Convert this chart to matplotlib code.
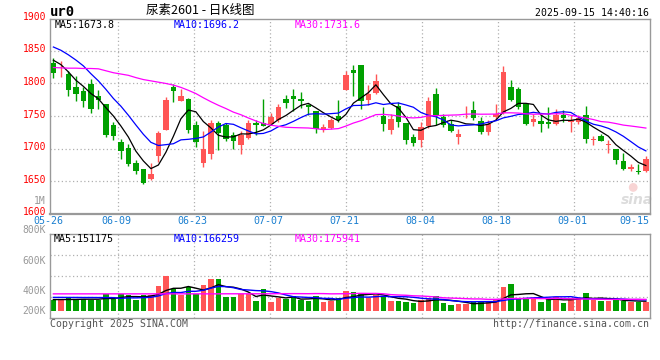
import matplotlib
matplotlib.use('Agg')
import matplotlib.pyplot as plt
import numpy as np
from matplotlib.transforms import blended_transform_factory, ScaledTranslation

# ---------------- data ----------------
opens = [1830.7, 1814.0, 1814.5, 1794.8, 1788.6, 1799.9, 1781.0, 1768.2, 1736.0, 1710.4,
         1700.6, 1677.1, 1669.4, 1653.1, 1688.9, 1728.3, 1794.8, 1773.3, 1776.0, 1736.0,
         1678.1, 1691.9, 1739.5, 1736.0, 1720.6, 1705.2, 1715.5, 1739.5, 1740.0, 1737.5,
         1743.6, 1775.8, 1781.0, 1776.0, 1767.0, 1757.5, 1730.0, 1732.0, 1749.7, 1789.6,
         1820.0, 1828.0, 1774.3, 1785.6, 1750.3, 1728.3, 1765.1, 1739.5, 1718.0, 1712.9,
         1734.9, 1784.5, 1748.7, 1738.5, 1718.0, 1754.5, 1759.0, 1742.1, 1725.7, 1748.7,
         1755.4, 1794.8, 1791.2, 1768.2, 1741.0, 1742.1, 1741.0, 1737.0, 1752.3, 1741.0,
         1741.0, 1752.3, 1713.0, 1719.1, 1705.2, 1699.1, 1680.7, 1668.4, 1665.9, 1665.9]
highs = [1838.4, 1834.0, 1819.0, 1811.6, 1794.8, 1807.5, 1789.6, 1768.2, 1741.0, 1714.0,
         1707.8, 1682.2, 1669.4, 1677.1, 1726.7, 1779.4, 1799.9, 1791.2, 1778.0, 1742.1,
         1726.7, 1743.6, 1742.1, 1739.5, 1725.7, 1726.7, 1744.6, 1744.6, 1775.8, 1755.4,
         1769.2, 1782.0, 1791.2, 1787.0, 1768.0, 1757.5, 1738.0, 1747.0, 1774.0, 1818.8,
         1828.0, 1828.0, 1797.3, 1814.2, 1764.0, 1753.8, 1771.7, 1739.5, 1723.1, 1741.0,
         1779.4, 1793.2, 1753.8, 1743.6, 1729.8, 1765.1, 1772.8, 1748.7, 1744.6, 1768.2,
         1826.5, 1805.0, 1794.8, 1768.2, 1753.8, 1752.3, 1764.1, 1761.5, 1759.0, 1752.3,
         1752.3, 1765.6, 1719.1, 1723.1, 1712.9, 1700.1, 1692.5, 1675.6, 1675.6, 1688.4]
lows = [1807.7, 1810.0, 1781.0, 1772.8, 1764.1, 1754.9, 1761.5, 1718.0, 1712.9, 1683.8,
        1673.5, 1660.7, 1644.9, 1651.5, 1679.7, 1728.0, 1771.7, 1773.3, 1724.5, 1702.7,
        1672.0, 1683.8, 1697.6, 1711.9, 1699.1, 1691.4, 1714.5, 1721.6, 1734.9, 1736.0,
        1741.0, 1762.5, 1757.4, 1762.0, 1751.0, 1724.0, 1725.0, 1730.0, 1741.0, 1789.6,
        1781.0, 1760.5, 1766.6, 1784.5, 1726.7, 1722.1, 1733.4, 1707.8, 1703.7, 1702.7,
        1731.8, 1735.9, 1732.4, 1725.7, 1706.8, 1746.2, 1743.6, 1723.1, 1720.6, 1743.6,
        1753.8, 1772.8, 1761.5, 1736.0, 1734.4, 1725.7, 1731.8, 1736.0, 1741.0, 1725.7,
        1738.5, 1709.3, 1705.2, 1711.4, 1692.5, 1675.6, 1666.9, 1665.3, 1660.2, 1664.3]
closes = [1816.3, 1815.0, 1789.7, 1783.5, 1773.3, 1761.5, 1774.3, 1721.6, 1719.6, 1696.6,
          1676.6, 1665.9, 1646.4, 1660.7, 1724.2, 1774.3, 1788.6, 1781.0, 1728.3, 1710.4,
          1699.1, 1740.0, 1724.2, 1715.0, 1711.9, 1721.6, 1739.5, 1736.0, 1734.9, 1748.7,
          1764.1, 1770.2, 1775.8, 1773.0, 1764.0, 1729.5, 1733.0, 1743.5, 1743.6, 1812.7,
          1816.0, 1773.0, 1784.5, 1803.5, 1737.5, 1745.1, 1741.0, 1712.9, 1708.8, 1732.4,
          1772.8, 1750.3, 1735.9, 1726.7, 1722.1, 1755.0, 1747.2, 1725.7, 1737.0, 1753.8,
          1817.8, 1774.3, 1764.1, 1737.5, 1745.1, 1737.0, 1737.0, 1752.3, 1746.2, 1743.6,
          1747.2, 1714.0, 1714.0, 1711.9, 1707.8, 1682.2, 1669.4, 1671.0, 1663.3, 1683.8]
# volume in thousands
volumes_k = [166, 166, 203, 182, 182, 166, 166, 260, 177, 260,
             239, 166, 239, 239, 390, 541, 338, 244, 374, 260,
             400, 499, 499, 218, 218, 260, 260, 151, 338, 140,
             192, 177, 229, 166, 156, 234, 140, 146, 203, 307,
             291, 276, 192, 244, 229, 151, 151, 130, 125, 166,
             192, 234, 125, 88, 104, 99, 130, 151, 130, 166,
             374, 416, 182, 182, 182, 140, 182, 218, 125, 192,
             192, 281, 166, 156, 151, 182, 151, 140, 130, 140]

# moving-average values before enough in-window data exist
ma5_head = [1835.7, 1829.0, 1817.8, 1805.0]
ma10_head = [1856, 1851, 1844, 1836, 1827, 1815, 1804, 1791, 1777]
ma30_head = [1824.5, 1824.0, 1823.5, 1823.5, 1823.0, 1823.0, 1822.5, 1819.5, 1816.5, 1814.5,
             1812.5, 1809.0, 1806.0, 1804.0, 1802.0, 1800.0, 1797.5, 1794.0, 1789.5, 1784.5,
             1778.0, 1772.0, 1766.5, 1761.5, 1756.0, 1752.0, 1747.0, 1742.5, 1738.5]
vol_ma5_head = [174, 174, 175, 176]
vol_ma10_head = [208, 208, 207, 207, 206, 206, 205, 205, 204]
vol_ma30_head = [263, 263, 263, 263, 263, 263, 263, 263, 263, 263,
                 263, 263, 263, 263, 263, 263, 263, 263, 263, 263,
                 263, 263, 263, 264, 264, 264, 264, 264, 264]

date_labels = ['05-26', '06-09', '06-23', '07-07', '07-21', '08-04', '08-18', '09-01', '09-15']
date_index = [0, 9, 19, 29, 39, 49, 59, 69, 79]
price_ticks = [1900, 1850, 1800, 1750, 1700, 1650, 1600]
price_grid = [1850, 1800, 1750, 1700, 1650]
vol_labels = ['800K', '600K', '400K', '200K']

title = '尿素2601 - 日K线图'
code = 'ur0'
stamp = '2025-09-15 14:40:16'
price_ma_text = ['MA5:1673.8', 'MA10:1696.2', 'MA30:1731.6']
vol_ma_text = ['MA5:151175', 'MA10:166259', 'MA30:175941']

# ---------------- style ----------------
RED = '#ff5555'
GREEN = '#00a000'
GRID = '#b0b0b0'
FRAME = '#999999'
MA_COLORS = ['#000000', '#0000ff', '#ff00ff']
MONO = 'DejaVu Sans Mono'
W, H = 660, 360

def moving_avg(vals, n, head):
    vals = np.asarray(vals, dtype=float)
    out = list(head)
    for i in range(len(head), len(vals)):
        out.append(vals[i - n + 1:i + 1].mean())
    return np.array(out)

opens_a = np.array(opens); closes_a = np.array(closes)
highs_a = np.array(highs); lows_a = np.array(lows)
vols = np.array(volumes_k, dtype=float)
N = len(closes)
x = np.arange(N)
up = closes_a >= opens_a
cols = np.where(up, RED, GREEN)

fig = plt.figure(figsize=(W / 100, H / 100), dpi=100)
fig.patch.set_facecolor('white')

def rect(l, t, r, b):
    return [l / W, 1 - b / H, (r - l) / W, (b - t) / H]

ax = fig.add_axes(rect(50, 19, 650, 213.7))
axv = fig.add_axes(rect(50, 234.3, 650, 317.7))

XMIN, XMAX = -0.45, N - 0.45
for a in (ax, axv):
    a.set_xlim(XMIN, XMAX)
    a.set_xticks([]); a.set_yticks([])
    for s in a.spines.values():
        s.set_color(FRAME); s.set_linewidth(1.0)
ax.spines['bottom'].set_linewidth(1.6)

ax.set_ylim(1600, 1899)
axv.set_ylim(-109, 1192)

# grid
grid_x = [XMIN + (i / (N - 1)) * (XMAX - XMIN) for i in date_index[1:-1]]
for a in (ax, axv):
    for gx in grid_x:
        a.axvline(gx, color=GRID, lw=0.9, ls=(0, (1, 2)), zorder=0)
for p in price_grid:
    ax.axhline(p, color=GRID, lw=0.9, ls=(0, (1, 2)), zorder=0)
for f in (0.25, 0.5, 0.75):
    axv.plot([0, 1], [f, f], transform=axv.transAxes, color=GRID, lw=0.9,
             ls=(0, (1, 2)), zorder=0)

# watermark (logo mark + text), behind the data
ax.scatter([0.972], [0.135], transform=ax.transAxes, s=40, color='#f8d4d4',
           edgecolors='none', zorder=1)
ax.text(0.978, 0.07, 'sina', transform=ax.transAxes, ha='center', va='center',
        color='#dcdcdc', fontsize=10, fontstyle='italic', fontweight='bold',
        family='DejaVu Sans', zorder=1)

# candles
ax.vlines(x, lows_a, highs_a, colors=cols, lw=1.0, zorder=2)
body_bottom = np.minimum(opens_a, closes_a)
body_h = np.maximum(np.abs(closes_a - opens_a), 0.8)
ax.bar(x, body_h, bottom=body_bottom, width=0.76, color=cols, linewidth=0, zorder=3)

ma5 = moving_avg(closes, 5, ma5_head)
ma10 = moving_avg(closes, 10, ma10_head)
ma30 = moving_avg(closes, 30, ma30_head)
for m, c in zip((ma5, ma10, ma30), MA_COLORS):
    ax.plot(x, m, color=c, lw=0.9, zorder=4)

# volume
axv.bar(x, vols, width=0.76, color=cols, linewidth=0, zorder=2)
vma5 = moving_avg(vols, 5, vol_ma5_head)
vma10 = moving_avg(vols, 10, vol_ma10_head)
vma30 = moving_avg(vols, 30, vol_ma30_head)
for m, c in zip((vma5, vma10, vma30), MA_COLORS):
    axv.plot(x, m, color=c, lw=1.0, zorder=4)

# price labels
tr = blended_transform_factory(ax.transAxes, ax.transData) + \
    ScaledTranslation(-4 / 100, 1.5 / 100, fig.dpi_scale_trans)
for p in price_ticks:
    ax.text(0, p, str(p), transform=tr, ha='right', va='center', color='#ff0000',
            fontsize=7, family=MONO, clip_on=False)

def ftext(px, py, s, **kw):
    fig.text(px / W, 1 - py / H, s, **kw)

ftext(46, 200.7, '1M', ha='right', va='center', color=FRAME, fontsize=7, family=MONO)
for s, py in zip(vol_labels, (230.5, 260.7, 291, 311)):
    ftext(46, py, s, ha='right', va='center', color=FRAME, fontsize=7, family=MONO)

# date labels
for lab, idx in zip(date_labels, date_index):
    px = 50 + idx / (N - 1) * 600 - 1.5
    if idx == date_index[-1]:
        ftext(649, 221.5, lab, ha='right', va='center', color='#1a7fd0', fontsize=7.2, family=MONO)
    else:
        ftext(px, 221.5, lab, ha='center', va='center', color='#1a7fd0', fontsize=7.2, family=MONO)

# header
ftext(50, 12.5, code, ha='left', va='center', color='black', fontsize=10,
      family=MONO, fontweight='bold')
ftext(200, 10.5, title, ha='center', va='center', color='black', fontsize=9,
      family=['Noto Sans CJK SC', 'DejaVu Sans'])
ftext(649, 12.5, stamp, ha='right', va='center', color='black', fontsize=7.1, family=MONO)

for s, px, c in zip(price_ma_text, (55, 174, 295), MA_COLORS):
    ftext(px, 24.5, s, ha='left', va='center', color=c, fontsize=7.2, family=MONO)
for s, px, c in zip(vol_ma_text, (54, 174, 295), MA_COLORS):
    ftext(px, 239.5, s, ha='left', va='center', color=c, fontsize=7.2, family=MONO)

ftext(50, 324, 'Copyright 2025 SINA.COM', ha='left', va='center', color='#555555',
      fontsize=7.1, family=MONO)
ftext(649, 324, 'http://finance.sina.com.cn', ha='right', va='center', color='#555555',
      fontsize=7.1, family=MONO)

fig.savefig('out.png', dpi=100, facecolor='white')
